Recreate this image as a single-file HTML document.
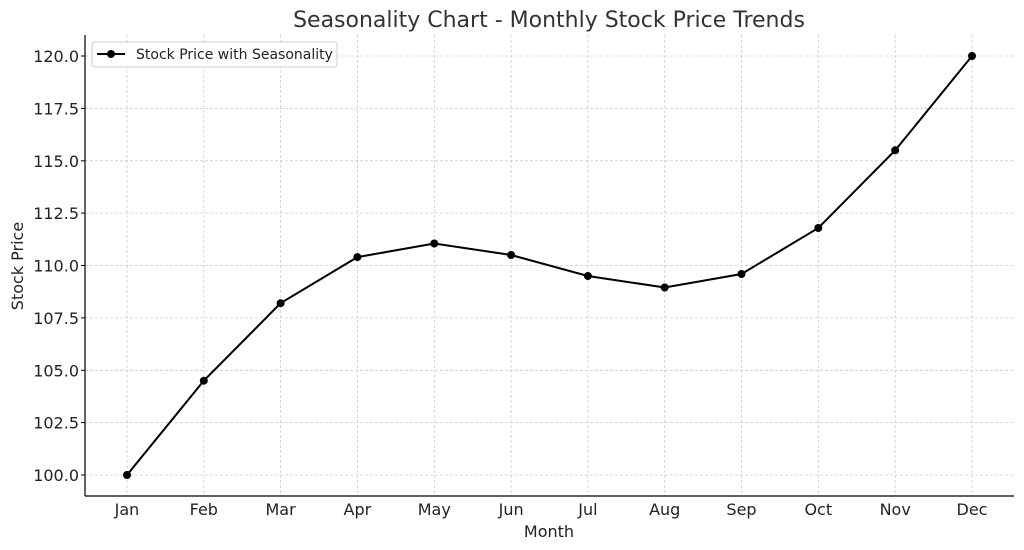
<!DOCTYPE html>
<html><head><meta charset="utf-8"><style>
body{margin:0;background:#fff}
svg{display:block;font-family:"DejaVu Sans","Liberation Sans",sans-serif}
</style></head><body>
<svg width="1024" height="550" xmlns="http://www.w3.org/2000/svg">
<rect width="1024" height="550" fill="#fff"/>
<text x="549" y="27" font-size="22" fill="#333" text-anchor="middle">Seasonality Chart - Monthly Stock Price Trends</text>
<g stroke="#ccc" stroke-width="0.8" stroke-dasharray="3,2">
<line x1="85" x2="1014" y1="475" y2="475"/><line x1="85" x2="1014" y1="422.6" y2="422.6"/>
<line x1="85" x2="1014" y1="370.3" y2="370.3"/><line x1="85" x2="1014" y1="317.9" y2="317.9"/>
<line x1="85" x2="1014" y1="265.5" y2="265.5"/><line x1="85" x2="1014" y1="213.1" y2="213.1"/>
<line x1="85" x2="1014" y1="160.8" y2="160.8"/><line x1="85" x2="1014" y1="108.4" y2="108.4"/>
<line x1="85" x2="1014" y1="56" y2="56"/>
<line y1="35" y2="496" x1="127" x2="127"/><line y1="35" y2="496" x1="203.8" x2="203.8"/>
<line y1="35" y2="496" x1="280.6" x2="280.6"/><line y1="35" y2="496" x1="357.4" x2="357.4"/>
<line y1="35" y2="496" x1="434.3" x2="434.3"/><line y1="35" y2="496" x1="511.1" x2="511.1"/>
<line y1="35" y2="496" x1="587.9" x2="587.9"/><line y1="35" y2="496" x1="664.7" x2="664.7"/>
<line y1="35" y2="496" x1="741.5" x2="741.5"/><line y1="35" y2="496" x1="818.3" x2="818.3"/>
<line y1="35" y2="496" x1="895.2" x2="895.2"/><line y1="35" y2="496" x1="972" x2="972"/>
</g>
<g stroke="#000" stroke-width="1.2"><line x1="85" y1="35" x2="85" y2="496"/><line x1="85" y1="496" x2="1014" y2="496"/></g>
<g font-size="16" fill="#222" text-anchor="end">
<text x="79" y="481">100.0</text><text x="79" y="428.6">102.5</text><text x="79" y="376.3">105.0</text>
<text x="79" y="323.9">107.5</text><text x="79" y="271.5">110.0</text><text x="79" y="219.1">112.5</text>
<text x="79" y="166.8">115.0</text><text x="79" y="114.4">117.5</text><text x="79" y="62">120.0</text>
</g>
<g stroke="#000"><line x1="81" x2="85" y1="475" y2="475"/><line x1="81" x2="85" y1="422.6" y2="422.6"/><line x1="81" x2="85" y1="370.3" y2="370.3"/><line x1="81" x2="85" y1="317.9" y2="317.9"/><line x1="81" x2="85" y1="265.5" y2="265.5"/><line x1="81" x2="85" y1="213.1" y2="213.1"/><line x1="81" x2="85" y1="160.8" y2="160.8"/><line x1="81" x2="85" y1="108.4" y2="108.4"/><line x1="81" x2="85" y1="56" y2="56"/></g>
<g font-size="16" fill="#222" text-anchor="middle">
<text x="127" y="515">Jan</text><text x="203.8" y="515">Feb</text><text x="280.6" y="515">Mar</text>
<text x="357.4" y="515">Apr</text><text x="434.3" y="515">May</text><text x="511.1" y="515">Jun</text>
<text x="587.9" y="515">Jul</text><text x="664.7" y="515">Aug</text><text x="741.5" y="515">Sep</text>
<text x="818.3" y="515">Oct</text><text x="895.2" y="515">Nov</text><text x="972" y="515">Dec</text>
<text x="549" y="537">Month</text>
</g>
<text x="23" y="266" font-size="16" fill="#222" text-anchor="middle" transform="rotate(-90 23 266)">Stock Price</text>
<polyline fill="none" stroke="#000" stroke-width="2" points="127,475 203.8,380.7 280.6,303.2 357.4,257.1 434.3,243.5 511.1,255 587.9,276 664.7,287.5 741.5,274 818.3,228 895.2,150.3 972,56"/>
<g fill="#000">
<circle cx="127" cy="475" r="4"/><circle cx="203.8" cy="380.7" r="4"/><circle cx="280.6" cy="303.2" r="4"/>
<circle cx="357.4" cy="257.1" r="4"/><circle cx="434.3" cy="243.5" r="4"/><circle cx="511.1" cy="255" r="4"/>
<circle cx="587.9" cy="276" r="4"/><circle cx="664.7" cy="287.5" r="4"/><circle cx="741.5" cy="274" r="4"/>
<circle cx="818.3" cy="228" r="4"/><circle cx="895.2" cy="150.3" r="4"/><circle cx="972" cy="56" r="4"/>
</g>
<rect x="92" y="42" width="245" height="25" rx="3" fill="#fff" stroke="#ccc"/>
<line x1="97" x2="125" y1="54" y2="54" stroke="#000" stroke-width="2"/>
<circle cx="111" cy="54" r="4" fill="#000"/>
<text x="136" y="59" font-size="14" fill="#222">Stock Price with Seasonality</text>
</svg>
</body></html>
